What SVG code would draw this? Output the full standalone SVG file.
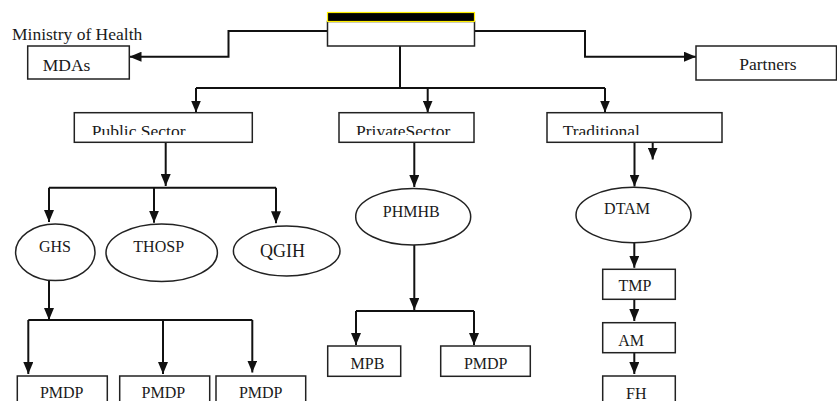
<svg xmlns="http://www.w3.org/2000/svg" width="837" height="401" viewBox="0 0 837 401">
<style>
.box{fill:#fff;stroke:#222;stroke-width:1.5}
.ell{fill:#fff;stroke:#222;stroke-width:1.5}
text{font-family:"Liberation Serif",serif;fill:#1a1a1a}
.c{stroke:#111;stroke-width:2;fill:none}
.a{marker-end:url(#arr)}
</style>
<defs>
<marker id="arr" markerUnits="userSpaceOnUse" markerWidth="12" markerHeight="10" refX="12" refY="5" orient="auto">
<path d="M0,0 L12,5 L0,10 z" fill="#111"/>
</marker>
<clipPath id="cut"><rect x="0" y="100" width="837" height="35"/></clipPath>
</defs>
<rect width="837" height="401" fill="#fff"/>
<g id="connectors">
<path class="c a" d="M328,31 H228.5 V56.7 H129.5"/>
<path class="c a" d="M474,31 H585 V56.7 H696"/>
<path class="c" d="M400,46 V88 M196,88 H605"/>
<path class="c a" d="M196,88 V112.5"/>
<path class="c a" d="M427.7,88 V112.5"/>
<path class="c a" d="M605,88 V112.5"/>
<path class="c a" d="M165.7,142.3 V186"/>
<path class="c" d="M49,187.7 H276"/>
<path class="c a" d="M49,187.7 V222"/>
<path class="c a" d="M154,187.7 V222.7"/>
<path class="c a" d="M276,187.7 V223.3"/>
<path class="c a" d="M49,281 V320"/>
<path class="c" d="M28.3,320 H252.3"/>
<path class="c a" d="M28.3,320 V374"/>
<path class="c a" d="M163,320 V374"/>
<path class="c a" d="M252.3,320 V372.5"/>
<path class="c a" d="M414.3,142.3 V187"/>
<path class="c a" d="M414.3,245 V310"/>
<path class="c" d="M356,311 H474"/>
<path class="c a" d="M356,311 V345"/>
<path class="c a" d="M474,311 V345"/>
<path class="c a" d="M634.5,142.3 V186.5"/>
<path class="c a" d="M652.7,136 V159.5"/>
<path class="c a" d="M634.3,243 V267.8"/>
<path class="c a" d="M634.3,299.3 V321"/>
<path class="c a" d="M634.3,352.7 V374"/>
</g>
<g id="top">
<rect class="box" x="327.5" y="21.5" width="147" height="24.5"/>
<rect x="327.5" y="12.5" width="147" height="9" fill="#000" stroke="#ffee00" stroke-width="1.2"/>
</g>
<g id="ministry"><text font-family="Liberation Serif" font-size="17.5" x="12" y="40">Ministry of Health</text></g>
<g id="mdas"><rect class="box" x="27.7" y="46" width="101.6" height="33"/><text font-family="Liberation Serif" font-size="17.5" x="42.7" y="70.5">MDAs</text></g>
<g id="partners"><rect class="box" x="696" y="46" width="140.5" height="34"/><text font-family="Liberation Serif" font-size="17.5" x="739.3" y="70">Partners</text></g>
<g id="public"><rect class="box" x="74.3" y="112.7" width="178" height="29.6"/><text font-family="Liberation Serif" font-size="17.5" x="91.7" y="136.5" clip-path="url(#cut)">Public Sector</text></g>
<g id="private"><rect class="box" x="339" y="112.7" width="135" height="29.6"/><text font-family="Liberation Serif" font-size="17.5" x="356" y="136.5" clip-path="url(#cut)">PrivateSector</text></g>
<g id="traditional"><rect class="box" x="547" y="112.7" width="175" height="29.6"/><text font-family="Liberation Serif" font-size="17.5" x="562.7" y="136.5" clip-path="url(#cut)">Traditional</text></g>
<g id="ghs"><ellipse class="ell" cx="55.3" cy="252.3" rx="39.7" ry="28.3"/><text font-family="Liberation Serif" font-size="16" x="55" y="251.7" text-anchor="middle">GHS</text></g>
<g id="thosp"><ellipse class="ell" cx="161.7" cy="252.8" rx="55.7" ry="28.8"/><text font-family="Liberation Serif" font-size="16" x="158.7" y="252" text-anchor="middle">THOSP</text></g>
<g id="qgih"><ellipse class="ell" cx="286.7" cy="251" rx="53.3" ry="25"/><text font-family="Liberation Serif" font-size="18" x="282.5" y="256.5" text-anchor="middle">QGIH</text></g>
<g id="pmdp1"><rect class="box" x="17.3" y="376" width="90" height="40"/><text font-family="Liberation Serif" font-size="16" x="61.7" y="398" text-anchor="middle">PMDP</text></g>
<g id="pmdp2"><rect class="box" x="119.7" y="376" width="90" height="40"/><text font-family="Liberation Serif" font-size="16" x="163.3" y="398" text-anchor="middle">PMDP</text></g>
<g id="pmdp3"><rect class="box" x="216" y="376" width="89.7" height="40"/><text font-family="Liberation Serif" font-size="16" x="260.7" y="398" text-anchor="middle">PMDP</text></g>
<g id="phmhb"><ellipse class="ell" cx="413.2" cy="216.7" rx="57.5" ry="28.3"/><text font-family="Liberation Serif" font-size="16" x="411.3" y="217.3" text-anchor="middle">PHMHB</text></g>
<g id="mpb"><rect class="box" x="327.7" y="346" width="73" height="30.3"/><text font-family="Liberation Serif" font-size="16" x="367.5" y="369" text-anchor="middle">MPB</text></g>
<g id="pmdp4"><rect class="box" x="440.7" y="346" width="89.6" height="30.3"/><text font-family="Liberation Serif" font-size="16" x="485.7" y="369" text-anchor="middle">PMDP</text></g>
<g id="dtam"><ellipse class="ell" cx="633.5" cy="215" rx="57.5" ry="27.7"/><text font-family="Liberation Serif" font-size="16" x="627" y="214.3" text-anchor="middle">DTAM</text></g>
<g id="tmp"><rect class="box" x="602.7" y="269.3" width="72.6" height="30"/><text font-family="Liberation Serif" font-size="16" x="635" y="291" text-anchor="middle">TMP</text></g>
<g id="am"><rect class="box" x="602.7" y="322.7" width="72.6" height="30"/><text font-family="Liberation Serif" font-size="16" x="631.2" y="345.7" text-anchor="middle">AM</text></g>
<g id="fh"><rect class="box" x="602.7" y="376" width="72.6" height="40"/><text font-family="Liberation Serif" font-size="16" x="636.3" y="399" text-anchor="middle">FH</text></g>
</svg>
